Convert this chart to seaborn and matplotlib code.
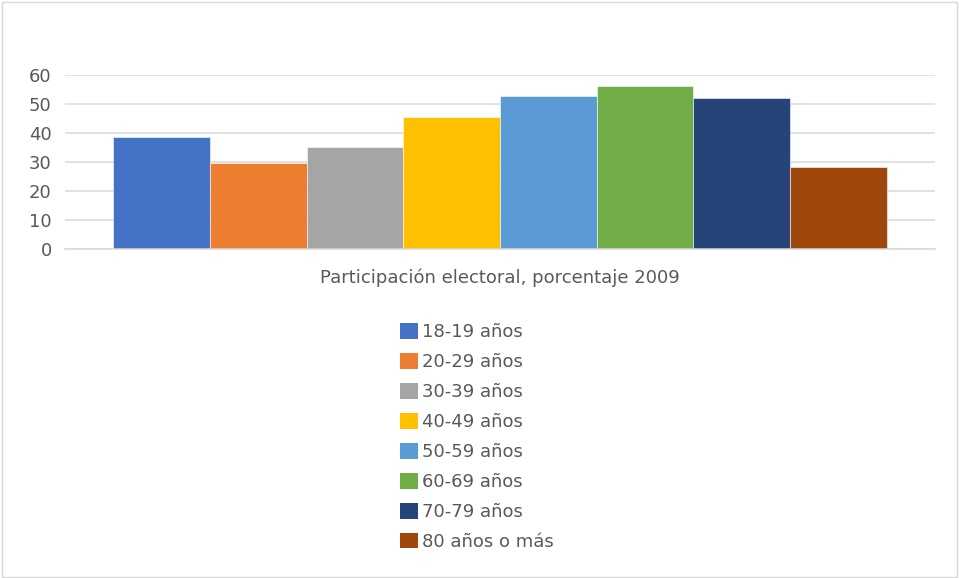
import matplotlib
matplotlib.use("Agg")
import matplotlib.pyplot as plt
import seaborn as sns
import pandas as pd
from matplotlib.patches import Patch, Rectangle

# Data
category = "Participación electoral, porcentaje 2009"
age_groups = ["18-19 años", "20-29 años", "30-39 años", "40-49 años",
              "50-59 años", "60-69 años", "70-79 años", "80 años o más"]
turnout = [38.7, 29.8, 35.3, 45.6, 52.9, 56.2, 52.2, 28.2]
colors = ["#4472C4", "#ED7D31", "#A5A5A5", "#FFC000",
          "#5B9BD5", "#70AD47", "#264478", "#9E480E"]
y_ticks = [0, 10, 20, 30, 40, 50, 60]

df = pd.DataFrame({"cat": [category] * len(age_groups),
                   "grupo": age_groups,
                   "valor": turnout})

sns.set_theme(style="white")
plt.rcParams["font.family"] = ["DejaVu Sans"]

fig = plt.figure(figsize=(9.61, 5.78), dpi=100)
ax = fig.add_axes([65 / 961, 329 / 578, 870 / 961, 174 / 578])

sns.barplot(data=df, x="cat", y="valor", hue="grupo", hue_order=age_groups,
            palette=colors, width=0.889, saturation=1, ax=ax,
            edgecolor="white", linewidth=0.4, legend=False)

ax.set_xlim(-0.5, 0.5)
ax.set_ylim(0, 60)
ax.set_yticks(y_ticks)
ax.yaxis.grid(True, color="#D9D9D9", linewidth=1.1)
ax.set_axisbelow(True)
for s in ["top", "right", "left"]:
    ax.spines[s].set_visible(False)
ax.spines["bottom"].set_color("#D9D9D9")
ax.spines["bottom"].set_linewidth(1.1)
ax.tick_params(axis="y", length=0, pad=9.5, labelsize=13, labelcolor="#595959")
ax.tick_params(axis="x", length=0, pad=14, labelsize=13, labelcolor="#595959")
ax.set_xlabel("")
ax.set_ylabel("")

handles = [Patch(facecolor=c, edgecolor="none") for c in colors]
fig.legend(handles, age_groups, loc="upper left", bbox_to_anchor=(386 / 961, 1 - 309 / 578),
           ncol=1, frameon=False, fontsize=13, labelcolor="#595959",
           handlelength=0.95, handleheight=0.95, handletextpad=0.25,
           labelspacing=0.66, borderpad=0.3)

# thin chart-area border
fig.add_artist(Rectangle((0.002, 0.002), 0.994, 0.994, transform=fig.transFigure,
                         fill=False, edgecolor="#D9D9D9", linewidth=1))

fig.savefig("out.png", dpi=100)
